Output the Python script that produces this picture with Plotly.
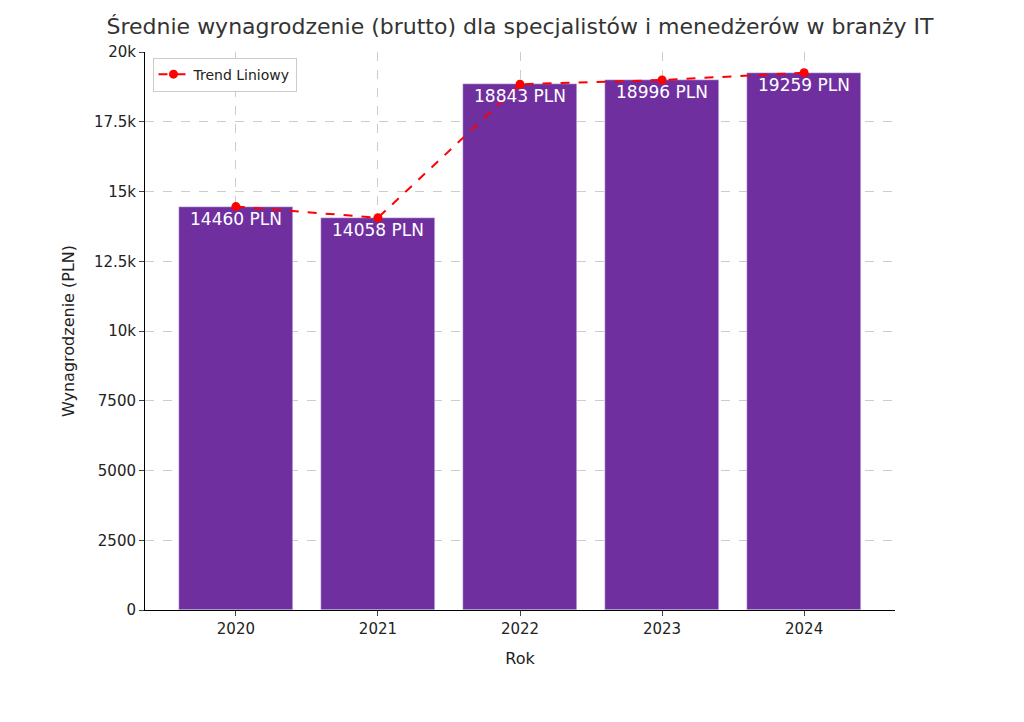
import plotly.graph_objects as go

years = [2020, 2021, 2022, 2023, 2024]
values = [14460, 14058, 18843, 18996, 19259]
labels = [f"{v} PLN" for v in values]

fig = go.Figure()
fig.add_trace(go.Bar(x=years, y=values, width=0.8, marker_color="#6f2f9f",
                     showlegend=False))
fig.add_trace(go.Scatter(x=years, y=values, mode="lines+markers", name="Trend Liniowy",
                         line=dict(color="red", dash="dash", width=2),
                         marker=dict(color="red", size=9)))
for x, v, t in zip(years, values, labels):
    fig.add_annotation(x=x, y=v, text=t, showarrow=False, yanchor="top",
                       font=dict(color="white", size=17))

grid = dict(showgrid=True, gridcolor="#cccccc", griddash="dash", gridwidth=1,
            layer="above traces")
fig.update_layout(
    width=1024, height=722, plot_bgcolor="white", paper_bgcolor="white",
    font=dict(family="DejaVu Sans", color="#222"),
    margin=dict(l=137, r=137, t=44, b=120),
    title=dict(text="Średnie wynagrodzenie (brutto) dla specjalistów i menedżerów w branży IT",
               x=0.5, xref="paper", y=0.975, yanchor="middle", font=dict(size=22, color="#333")),
    xaxis=dict(title=dict(text="Rok", font=dict(size=16)), range=[2019.36, 2024.64],
               tickvals=years, tickfont=dict(size=15), ticks="outside",
               showline=True, linecolor="black", **grid),
    yaxis=dict(title=dict(text="Wynagrodzenie (PLN)", font=dict(size=16)),
               range=[0, 20000], tickvals=list(range(0, 20001, 2500)),
               tickfont=dict(size=15), ticks="outside", showline=True,
               linecolor="black", **grid),
    legend=dict(x=0.01, y=0.99, xanchor="left", yanchor="top", bgcolor="white",
                bordercolor="#ccc", borderwidth=1, font=dict(size=14)),
    bargap=0,
)
fig.write_html("out.html")
